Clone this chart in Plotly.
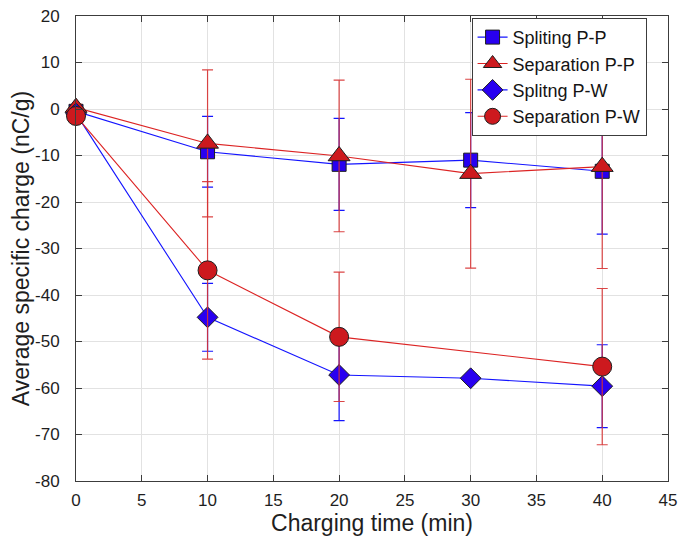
import plotly.graph_objects as go

time = [0, 10, 20, 30, 40]

split_pp = [-0.5, -9.2, -11.9, -11.0, -13.4]
split_pp_err = [0.8, 7.6, 9.9, 10.2, 13.5]

sep_pp = [0.3, -7.4, -10.1, -13.9, -12.4]
sep_pp_err = [0.8, 15.8, 16.3, 20.3, 21.9]

split_pw = [-1.0, -44.8, -57.2, -57.9, -59.6]
split_pw_err = [0.8, 7.3, 9.8, 0.0, 8.9]

sep_pw = [-1.5, -34.7, -49.0, None, -55.4]
sep_pw_err = [0.8, 19.1, 13.9, None, 16.8]

names = ["Spliting P-P", "Separation P-P", "Splitng P-W", "Separation P-W"]

x_ticks = [0, 5, 10, 15, 20, 25, 30, 35, 40, 45]
y_ticks = [20, 10, 0, -10, -20, -30, -40, -50, -60, -70, -80]

BLUE_LINE = "rgb(20,20,255)"
BLUE_FILL = "rgb(40,0,240)"
RED_LINE = "rgb(220,35,35)"
RED_FILL = "rgb(205,25,30)"
RED_ERR = "rgba(215,50,50,0.9)"
FONT = "Liberation Sans, Arial, sans-serif"

series = [
    (split_pp, split_pp_err, names[0], BLUE_LINE, BLUE_FILL, BLUE_LINE, "square", 14),
    (sep_pp, sep_pp_err, names[1], RED_LINE, RED_FILL, RED_ERR, "triangle-up", 19),
    (split_pw, split_pw_err, names[2], BLUE_LINE, BLUE_FILL, BLUE_LINE, "diamond", 16),
    (sep_pw, sep_pw_err, names[3], RED_LINE, RED_FILL, RED_ERR, "circle", 19),
]

fig = go.Figure()
for ys, errs, name, lc, fc, ec, sym, sz in series:
    xs = [t for t, v in zip(time, ys) if v is not None]
    yv = [v for v in ys if v is not None]
    ev = [e for e, v in zip(errs, ys) if v is not None]
    fig.add_trace(go.Scatter(
        x=xs, y=yv, name=name, mode="lines+markers",
        line=dict(color=lc, width=1.1),
        marker=dict(symbol=sym, size=sz, color=fc,
                    line=dict(color="rgb(30,30,30)", width=1)),
        error_y=dict(type="data", array=ev, visible=True,
                     color=ec, thickness=1.2, width=5.5),
        cliponaxis=False,
    ))

axis_common = dict(
    showline=True, linecolor="rgb(60,60,60)", linewidth=1, mirror="allticks",
    ticks="inside", ticklen=6, tickcolor="rgb(60,60,60)",
    showgrid=True, gridcolor="rgb(226,226,226)", gridwidth=1,
    zeroline=False, automargin=False, ticklabeloverflow="allow",
    tickfont=dict(family=FONT, size=17, color="rgb(30,30,30)"),
)

fig.update_xaxes(range=[0, 45], tickmode="array", tickvals=x_ticks,
                 ticktext=[str(v) for v in x_ticks], ticklabelstandoff=4,
                 title=dict(text="Charging time (min)", standoff=2,
                            font=dict(family=FONT, size=23, color="rgb(30,30,30)")),
                 **axis_common)
fig.update_yaxes(range=[-80, 20], tickmode="array", tickvals=y_ticks,
                 ticktext=[str(v) for v in y_ticks], ticklabelstandoff=12,
                 title=dict(text="Average specific charge (nC/g)", standoff=0,
                            font=dict(family=FONT, size=23, color="rgb(30,30,30)")),
                 **axis_common)

# the page body adds an 8px offset; compensate so the plot area lands where it should
fig.update_layout(
    width=678, height=530,
    margin=dict(l=68, r=18, t=8, b=57),
    paper_bgcolor="white", plot_bgcolor="white",
    showlegend=True,
    legend=dict(x=0.816, y=0.869, xanchor="center", yanchor="middle",
                bgcolor="white", bordercolor="rgb(60,60,60)", borderwidth=1,
                font=dict(family=FONT, size=18, color="rgb(20,20,20)"),
                tracegroupgap=0),
)

fig.write_html("out.html")
